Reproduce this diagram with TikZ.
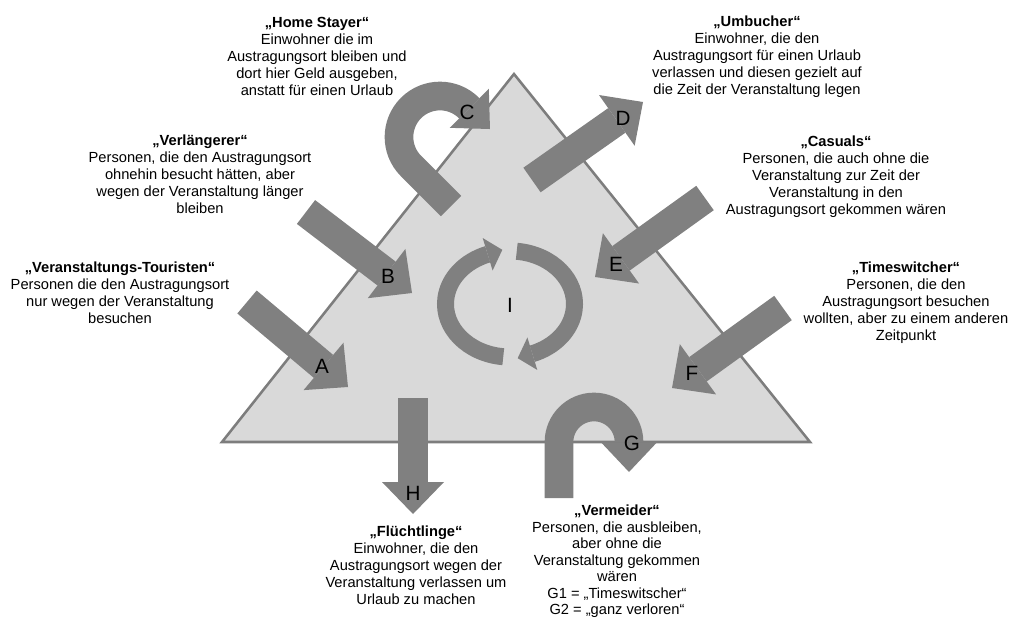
\documentclass[tikz,border=0pt]{standalone}
\usepackage{fontspec}
\setmainfont{Liberation Sans}
\usetikzlibrary{arrows.meta}

\definecolor{arrowgray}{RGB}{128,128,128}
\definecolor{trifill}{RGB}{217,217,217}
\definecolor{triline}{RGB}{125,125,125}

\tikzset{
	bigarrow/.style = {draw=arrowgray, line width=22.5pt, -{Triangle[length=24pt, width=46.5pt, line width=0pt]}},
	turnarrow/.style = {draw=arrowgray, line width=21.5pt, -{Triangle[length=22pt, width=41.5pt, line width=0pt]}},
	ringarrow/.style = {draw=arrowgray, line width=12.75pt, -{Triangle[length=11.5pt, width=25.5pt, line width=0pt]}},
	letter/.style = {font=\fontsize{15.5}{18}\selectfont, inner sep=0pt},
	desc/.style = {align=center, anchor=north, inner sep=0pt, font=\fontsize{11}{12.75}\selectfont},
}

\begin{document}
\begin{tikzpicture}[x=0.75pt, y=-0.75pt]
\useasboundingbox (0,0) rectangle (1010,620);

\coordinate (top) at (514,74);
\coordinate (left) at (222,442);
\coordinate (right) at (810,442);
\filldraw[fill=trifill, draw=triline, line width=1.9pt] (top) -- (right) -- (left) -- cycle;

\foreach \n/\tx/\ty/\hx/\hy/\lx/\ly in {A/247/302/348/387/322/366, B/306/212/412/293/388/276,
	D/532/180/643/102/623/118, E/705/198/595/277/616/264, F/783/308/672/388/692/373,
	H/413/398/413/514/413/493} {
	\coordinate (\n-tail) at (\tx,\ty);
	\coordinate (\n-tip) at (\hx,\hy);
	\draw[bigarrow] (\n-tail) -- (\n-tip);
	\node[letter] (\n) at (\lx,\ly) {\n};
}

\coordinate (C-tail) at (451,206);
\draw[turnarrow] (C-tail) -- ++(-40,-40) arc[start angle=135, end angle=315, radius=41] -- ++(21,21);
\node[letter] (C) at (467,112) {C};

\coordinate (G-tail) at (559,498);
\draw[turnarrow] (G-tail) -- ++(0,-56) arc[start angle=180, end angle=360, radius=35] -- ++(0,30);
\node[letter] (G) at (632,443) {G};

\coordinate (I-center) at (510,304);
\draw[ringarrow] (I-center) ++(96:64.5 and 53) arc[start angle=96, end angle=249.6, x radius=64.5, y radius=53] -- ++(14.8,-4.5);
\draw[ringarrow] (I-center) ++(276:64.5 and 53) arc[start angle=276, end angle=429.6, x radius=64.5, y radius=53] -- ++(-14.8,4.5);
\node[letter] (I) at (510,305) {I};

\node[desc] (homestayer) at (317,17) {{\bfseries „Home Stayer“}\\Einwohner die im\\Austragungsort bleiben und\\dort hier Geld ausgeben,\\anstatt für einen Urlaub};
\node[desc] (verlaengerer) at (200,135) {{\bfseries „Verlängerer“}\\Personen, die den Austragungsort\\ohnehin besucht hätten, aber\\wegen der Veranstaltung länger\\bleiben};
\node[desc] (touristen) at (120,262) {{\bfseries „Veranstaltungs-Touristen“}\\Personen die den Austragungsort\\nur wegen der Veranstaltung\\besuchen};
\node[desc] (umbucher) at (757,16) {{\bfseries „Umbucher“}\\Einwohner, die den\\Austragungsort für einen Urlaub\\verlassen und diesen gezielt auf\\die Zeit der Veranstaltung legen};
\node[desc] (casuals) at (836,136) {{\bfseries „Casuals“}\\Personen, die auch ohne die\\Veranstaltung zur Zeit der\\Veranstaltung in den\\Austragungsort gekommen wären};
\node[desc] (timeswitcher) at (906,262) {{\bfseries „Timeswitcher“}\\Personen, die den\\Austragungsort besuchen\\wollten, aber zu einem anderen\\Zeitpunkt};
\node[desc, font=\fontsize{11}{12.35}\selectfont] (vermeider) at (617,505) {{\bfseries „Vermeider“}\\Personen, die ausbleiben,\\aber ohne die\\Veranstaltung gekommen\\wären\\G1 = „Timeswitscher“\\G2 = „ganz verloren“};
\node[desc] (fluechtlinge) at (416,526) {{\bfseries „Flüchtlinge“}\\Einwohner, die den\\Austragungsort wegen der\\Veranstaltung verlassen um\\Urlaub zu machen};
\end{tikzpicture}
\end{document}
